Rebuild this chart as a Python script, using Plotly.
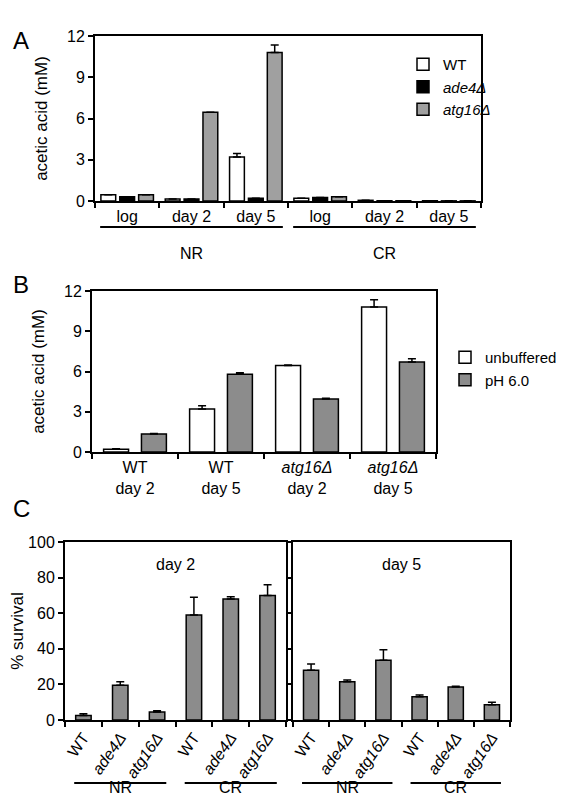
import plotly.graph_objects as go

W, H = 575, 800

# Panel A data
a_cats = ["NR log", "NR day 2", "NR day 5", "CR log", "CR day 2", "CR day 5"]
a_ticks = ["log", "day 2", "day 5", "log", "day 2", "day 5"]
a_wt = [0.45, 0.15, 3.2, 0.2, 0.05, 0.02]
a_wt_err = [0, 0, 0.25, 0, 0, 0]
a_ade4 = [0.3, 0.15, 0.2, 0.25, 0.02, 0.01]
a_ade4_err = [0, 0, 0, 0, 0, 0]
a_atg16 = [0.45, 6.45, 10.8, 0.3, 0.02, 0.01]
a_atg16_err = [0, 0, 0.55, 0, 0, 0]

# Panel B data
b_cats = ["WT<br>day 2", "WT<br>day 5", "<i>atg16Δ</i><br>day 2", "<i>atg16Δ</i><br>day 5"]
b_unbuf = [0.2, 3.2, 6.45, 10.8]
b_unbuf_err = [0.05, 0.25, 0.03, 0.55]
b_ph6 = [1.35, 5.8, 3.95, 6.7]
b_ph6_err = [0.03, 0.1, 0.05, 0.25]

# Panel C data
c_cats = ["NR WT", "NR ade4", "NR atg16", "CR WT", "CR ade4", "CR atg16"]
c_ticks = ["WT", "<i>ade4Δ</i>", "<i>atg16Δ</i>"] * 2
c_day2 = [2.5, 19.5, 4.5, 59, 68, 70]
c_day2_err = [1, 2, 0.7, 10, 1.2, 6]
c_day5 = [28, 21.5, 33.5, 13, 18.5, 8.5]
c_day5_err = [3.5, 1, 6, 1, 0.5, 1.5]

FONT = "Liberation Sans, Arial, sans-serif"
GRAY_A = "#a0a0a0"
GRAY = "#8c8c8c"
LINE = dict(color="black", width=1.5)


def err(vals):
    return dict(type="data", array=vals, arrayminus=[0] * len(vals), symmetric=False,
                color="black", thickness=1.5, width=4)


fig = go.Figure()

# A
for name, vals, e, col in [("WT", a_wt, a_wt_err, "white"),
                           ("<i>ade4Δ</i>", a_ade4, a_ade4_err, "black"),
                           ("<i>atg16Δ</i>", a_atg16, a_atg16_err, GRAY_A)]:
    fig.add_trace(go.Bar(x=a_cats, y=vals, name=name, marker=dict(color=col, line=LINE),
                         width=0.23, error_y=err(e), xaxis="x", yaxis="y", legend="legend",
                         offsetgroup=name))

# B
for name, vals, e, col in [("unbuffered", b_unbuf, b_unbuf_err, "white"),
                           ("pH 6.0", b_ph6, b_ph6_err, GRAY)]:
    fig.add_trace(go.Bar(x=b_cats, y=vals, name=name, marker=dict(color=col, line=LINE),
                         width=0.29, error_y=err(e), xaxis="x2", yaxis="y2", legend="legend2",
                         offsetgroup="b" + name))

# C
fig.add_trace(go.Bar(x=c_cats, y=c_day2, marker=dict(color=GRAY, line=LINE), width=0.42,
                     error_y=err(c_day2_err), xaxis="x3", yaxis="y3", showlegend=False))
fig.add_trace(go.Bar(x=c_cats, y=c_day5, marker=dict(color=GRAY, line=LINE), width=0.42,
                     error_y=err(c_day5_err), xaxis="x4", yaxis="y4", showlegend=False))

ax = dict(showline=True, linecolor="black", linewidth=2, mirror=True, ticks="outside",
          tickcolor="black", tickwidth=1.5, ticklen=5, showgrid=False, zeroline=False,
          automargin=False, tickfont=dict(size=16, color="black"))

fig.update_layout(
    width=W, height=H, margin=dict(l=0, r=0, t=0, b=0, autoexpand=False),
    plot_bgcolor="white", paper_bgcolor="white",
    font=dict(family=FONT, color="black"),
    barmode="group", bargap=0.12, bargroupgap=0,
    xaxis=dict(ax, domain=[87 / W, 473 / W], anchor="y", categoryorder="array",
               categoryarray=a_cats, tickvals=a_cats, ticktext=a_ticks, tickson="boundaries"),
    yaxis=dict(ax, domain=[1 - 193 / H, 1 - 28 / H], anchor="x", range=[0, 12],
               tickvals=[0, 3, 6, 9, 12], title=dict(text="acetic acid (mM)", font=dict(size=17))),
    xaxis2=dict(ax, domain=[84 / W, 428 / W], anchor="y2", tickson="boundaries"),
    yaxis2=dict(ax, domain=[1 - 444 / H, 1 - 283 / H], anchor="x2", range=[0, 12],
                tickvals=[0, 3, 6, 9, 12], title=dict(text="acetic acid (mM)", font=dict(size=17))),
    xaxis3=dict(ax, domain=[57 / W, 278 / W], anchor="y3", categoryorder="array",
                categoryarray=c_cats, tickvals=c_cats, ticktext=c_ticks, tickson="boundaries",
                tickangle=-55),
    yaxis3=dict(ax, domain=[1 - 712 / H, 1 - 534 / H], anchor="x3", range=[0, 100],
                tickvals=[0, 20, 40, 60, 80, 100], title=dict(text="% survival", font=dict(size=17))),
    xaxis4=dict(ax, domain=[285 / W, 502 / W], anchor="y4", categoryorder="array",
                categoryarray=c_cats, tickvals=c_cats, ticktext=c_ticks, tickson="boundaries",
                tickangle=-55),
    yaxis4=dict(ax, domain=[1 - 712 / H, 1 - 534 / H], anchor="x4", range=[0, 100],
                tickvals=[0, 20, 40, 60, 80, 100], showticklabels=False),
    legend=dict(x=395 / W, y=1 - 40 / H, xanchor="left", yanchor="top", bgcolor="rgba(0,0,0,0)",
                font=dict(size=15), tracegroupgap=0),
    legend2=dict(x=437 / W, y=1 - 333 / H, xanchor="left", yanchor="top", bgcolor="rgba(0,0,0,0)",
                 font=dict(size=15)),
)

shapes, ann = [], []
# group lines A
for lo, hi, lab in [(-0.42, 2.42, "NR"), (2.58, 5.42, "CR")]:
    shapes.append(dict(type="line", xref="x", yref="paper", x0=lo, x1=hi,
                       y0=1 - 219 / H, y1=1 - 219 / H, line=dict(color="black", width=2)))
    ann.append(dict(xref="x", yref="paper", x=(lo + hi) / 2, y=1 - 235 / H, text=lab,
                    showarrow=False, font=dict(size=16)))
# group lines C
for xr in ["x3", "x4"]:
    for lo, hi, lab in [(-0.25, 2.25, "NR"), (2.75, 5.25, "CR")]:
        shapes.append(dict(type="line", xref=xr, yref="paper", x0=lo, x1=hi,
                           y0=1 - 775 / H, y1=1 - 775 / H, line=dict(color="black", width=2)))
        ann.append(dict(xref=xr, yref="paper", x=(lo + hi) / 2, y=1 - 790 / H, text=lab,
                        showarrow=False, font=dict(size=16)))
ann.append(dict(xref="x3 domain", yref="y3 domain", x=0.5, y=0.93, text="day 2",
                showarrow=False, font=dict(size=16)))
ann.append(dict(xref="x4 domain", yref="y4 domain", x=0.5, y=0.93, text="day 5",
                showarrow=False, font=dict(size=16)))
for lab, py in [("A", 17), ("B", 277), ("C", 500)]:
    ann.append(dict(xref="paper", yref="paper", x=3 / W, y=1 - py / H, xanchor="left",
                    text=lab, showarrow=False, font=dict(size=24)))
fig.update_layout(shapes=shapes, annotations=ann)

fig.write_html("out.html")
